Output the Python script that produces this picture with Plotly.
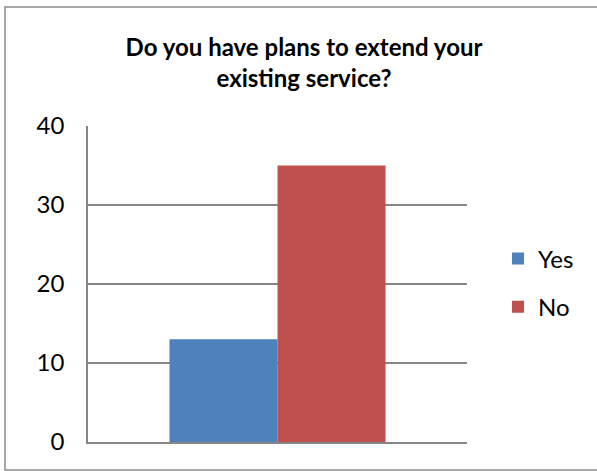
import plotly.graph_objects as go

category = ["Q"]
series_names = ["Yes", "No"]
series_values = [[13], [35]]
series_colors = ["#4F81BD", "#C0504D"]
y_ticks = [0, 10, 20, 30, 40]
title_text = "Do you have plans to extend your<br>existing service?"

W, H = 597, 471
L, R, T, B = 88, 130, 126, 29
pw, ph = W - L - R, H - T - B

fig = go.Figure()
for name, vals, col in zip(series_names, series_values, series_colors):
    fig.add_trace(go.Bar(x=category, y=vals, name=name, marker_color=col,
                         marker_line_width=0, legendgroup=name))

# pixel -> paper helpers
def px_x(v):
    return (v - L) / pw

def px_y(v):
    return (H - B - v) / ph

# chart border (right edge runs off the picture)
fig.add_shape(type="rect", xref="paper", yref="paper",
              x0=px_x(5), x1=px_x(605), y0=px_y(470), y1=px_y(7),
              line=dict(color="#8c8c8c", width=1.5), layer="below")

fig.update_layout(
    width=W, height=H,
    margin=dict(l=L, r=R, t=T, b=B),
    paper_bgcolor="white", plot_bgcolor="white",
    font=dict(family="Lato, Carlito, Calibri, sans-serif", size=24, color="black"),
    title=dict(text="<b>" + title_text + "</b>", x=px_x(304), xanchor="center",
               xref="paper", y=1 - 56 / H, yanchor="middle",
               font=dict(size=24)),
    barmode="group", bargap=0.43, bargroupgap=0,
    showlegend=True,
    legend=dict(x=px_x(498), y=px_y(283), xanchor="left", yanchor="middle",
                font=dict(size=24), tracegroupgap=14, itemwidth=30,
                traceorder="grouped"),
)
fig.update_xaxes(showticklabels=False, showgrid=False, zeroline=False,
                 showline=True, linecolor="#868686", linewidth=1.5, ticks="")
fig.update_yaxes(range=[0, 40], tickvals=y_ticks, showgrid=True,
                 gridcolor="#868686", gridwidth=1.5, zeroline=False,
                 showline=True, linecolor="#868686", linewidth=1.5,
                 ticks="", ticklabelstandoff=17)

fig.write_html("out.html", config={"displayModeBar": False},
               post_script="document.body.style.margin='0';")
